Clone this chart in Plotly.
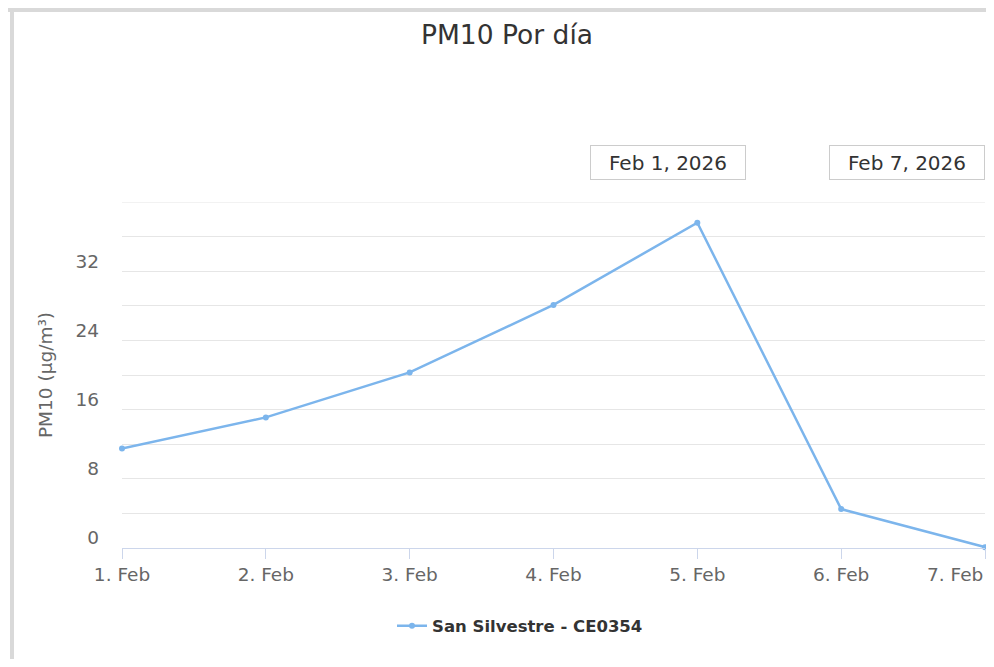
import plotly.graph_objects as go

# data
dates = ["2026-02-01", "2026-02-02", "2026-02-03", "2026-02-04",
         "2026-02-05", "2026-02-06", "2026-02-07"]
pm10 = [11.5, 15.1, 20.3, 28.1, 37.6, 4.5, 0.1]
x_labels = ["1. Feb", "2. Feb", "3. Feb", "4. Feb", "5. Feb", "6. Feb", "7. Feb"]
y_grid = [0, 4, 8, 12, 16, 20, 24, 28, 32, 36, 40]
y_labels = ["0", "", "8", "", "16", "", "24", "", "32", "", ""]
range_inputs = ["Feb 1, 2026", "Feb 7, 2026"]
series_name = "San Silvestre - CE0354"

# the page body has an 8px margin, so the figure starts at (8, 8);
# only ~986px of the page width is visible
OFF = 8
RIGHT = 985
W, H = 994 - OFF, 667 - 2 * OFF
# plot area in page pixels: x 122..RIGHT, y 202..548
L, R, T = 122 - OFF, W - (RIGHT - OFF), 202 - OFF
B = H - (548 - OFF)
pw, ph = W - L - R, H - T - B


def px(x):  # page px -> paper x
    return (x - OFF - L) / pw


def py(y):  # page px -> paper y
    return (H - B - (y - OFF)) / ph


FONT = "DejaVu Sans"
AXIS_BLUE = "#ccd6eb"
GRID = "#e6e6e6"
TICK = dict(size=18.5, color="#666666")

fig = go.Figure()
fig.add_trace(go.Scatter(
    x=dates, y=pm10, name=series_name, mode="lines+markers",
    line=dict(color="#7cb5ec", width=2.5),
    marker=dict(size=6, color="#7cb5ec"),
    cliponaxis=False,
))

fig.update_layout(
    width=W, height=H,
    margin=dict(l=L, r=R, t=T, b=B),
    paper_bgcolor="white", plot_bgcolor="white",
    font=dict(family=FONT, color="#666666"),
    title=dict(text="PM10 Por día", x=(507 - OFF) / W, xanchor="center",
               y=1 - (35 - OFF) / H, yanchor="middle",
               font=dict(size=26.5, color="#333333")),
    showlegend=True,
    legend=dict(orientation="h", x=px(520), xanchor="center",
                y=py(626), yanchor="middle",
                font=dict(size=16.5, color="#333333", weight="bold")),
)

fig.update_xaxes(
    range=[dates[0], dates[-1]],
    tickvals=dates, ticktext=x_labels[:-1] + [""],
    tickfont=TICK,
    ticks="outside", ticklen=10, tickcolor=AXIS_BLUE, tickwidth=1,
    showline=True, linecolor=AXIS_BLUE, linewidth=1,
    showgrid=False, zeroline=False,
)
fig.update_yaxes(
    range=[y_grid[0], y_grid[-1]],
    tickvals=y_grid, ticktext=y_labels,
    tickfont=TICK,
    ticklabelshift=-10, ticklabelstandoff=22,
    showgrid=True, gridcolor=GRID, gridwidth=1,
    zeroline=False, showline=False,
    title=dict(text="PM10 (µg/m³)", font=TICK, standoff=17),
)

# top gridline sits on the plot edge, plotly skips it
fig.add_shape(type="line", xref="paper", yref="y", x0=0, x1=1,
              y0=y_grid[-1], y1=y_grid[-1], layer="below",
              line=dict(color=GRID, width=1))

# last x label right-aligned so it stays inside the page
fig.add_annotation(x=dates[-1], xref="x", y=py(574), yref="paper",
                   text=x_labels[-1], showarrow=False, xanchor="right",
                   yanchor="middle", font=TICK)

# range selector input boxes
for label, cx in zip(range_inputs, [668, RIGHT - 78]):
    fig.add_annotation(x=px(cx), y=py(162.5), xref="paper", yref="paper",
                       text=label, showarrow=False, xanchor="center",
                       yanchor="middle", width=154, height=33,
                       borderpad=0, bordercolor="#cccccc", borderwidth=1,
                       bgcolor="white", font=dict(size=20, color="#333333"))

# container frame edges
fig.add_shape(type="line", xref="paper", yref="paper",
              x0=px(12), x1=px(12), y0=py(667), y1=py(8),
              line=dict(color="#d9d9d9", width=4))
fig.add_shape(type="line", xref="paper", yref="paper",
              x0=px(5), x1=px(994), y0=py(10), y1=py(10),
              line=dict(color="#d9d9d9", width=4))

fig.write_html("out.html")
